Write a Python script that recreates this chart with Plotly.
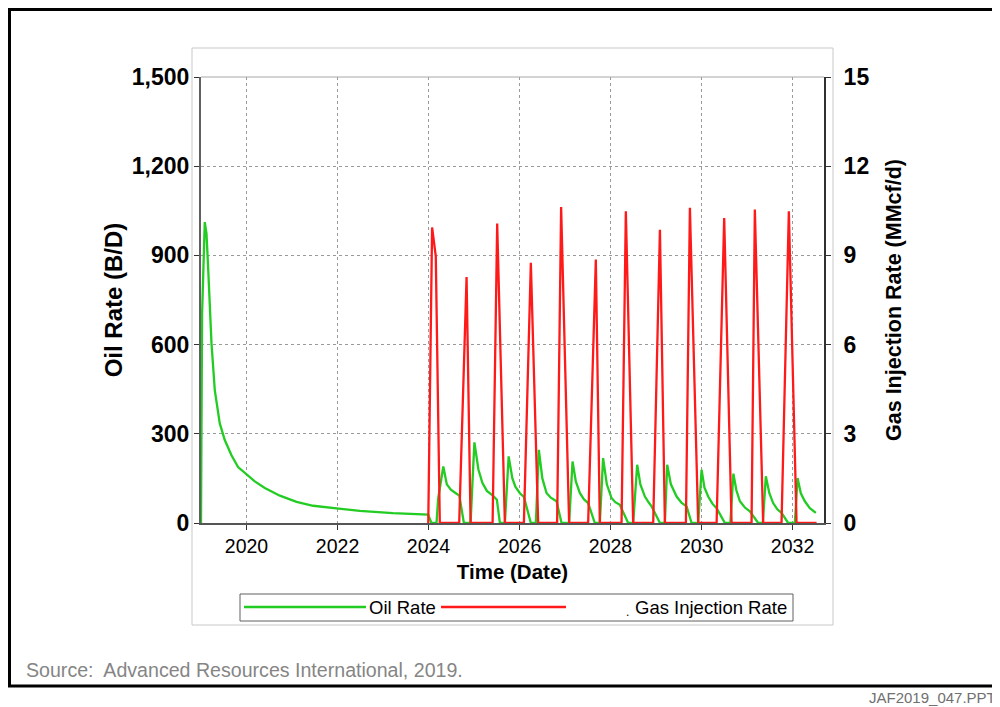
import datetime as dt
import plotly.graph_objects as go

# ---------------- data (decimal years) ----------------
oil_years = [
    2019.000, 2019.024, 2019.083, 2019.121, 2019.156, 2019.231, 2019.303, 2019.413,
    2019.523, 2019.670, 2019.815, 2020.000, 2020.182, 2020.402, 2020.622, 2020.732,
    2021.099, 2021.464, 2021.978, 2022.490, 2023.215, 2023.991, 2024.066,
    2024.176, 2024.211, 2024.325, 2024.402, 2024.490, 2024.600, 2024.677, 2024.776,
    2024.923, 2024.967, 2025.007, 2025.095, 2025.182, 2025.281, 2025.413, 2025.501, 2025.567,
    2025.677, 2025.721, 2025.760, 2025.842, 2025.908, 2026.007, 2026.095, 2026.248,
    2026.358, 2026.424, 2026.501, 2026.593, 2026.688, 2026.813, 2026.923,
    2027.090, 2027.165, 2027.237, 2027.325, 2027.413, 2027.508, 2027.655,
    2027.765, 2027.837, 2027.919, 2028.022, 2028.105, 2028.204, 2028.387,
    2028.497, 2028.585, 2028.655, 2028.754, 2028.842, 2028.901, 2029.084,
    2029.193, 2029.244, 2029.325, 2029.451, 2029.556, 2029.670, 2029.780,
    2029.925, 2030.000, 2030.062, 2030.145, 2030.237, 2030.330, 2030.512,
    2030.633, 2030.699, 2030.765, 2030.842, 2030.952, 2031.062, 2031.244,
    2031.347, 2031.413, 2031.490, 2031.574, 2031.666, 2031.758, 2031.903,
    2032.051, 2032.110, 2032.182, 2032.270, 2032.380, 2032.512,
]
oil_rate = [
    0, 704, 1012, 973, 862, 604, 447, 335,
    279, 228, 188, 163, 140, 118, 101, 92,
    71, 58, 49, 41, 33, 28, 0,
    0, 81, 190, 130, 112, 100, 92, 0,
    0, 145, 271, 180, 135, 108, 92, 78, 0,
    0, 120, 224, 150, 122, 100, 88, 0,
    0, 246, 150, 101, 85, 73, 0,
    0, 207, 140, 101, 80, 67, 0,
    0, 218, 130, 84, 70, 61, 0,
    0, 196, 130, 89, 68, 56, 0,
    0, 196, 130, 89, 68, 56, 0,
    0, 179, 120, 89, 65, 50, 0,
    0, 166, 110, 73, 52, 39, 0,
    0, 157, 100, 67, 46, 34, 0,
    0, 151, 100, 73, 50, 34,
]

gas_years = [
    2023.995, 2024.079, 2024.160, 2024.248,
    2024.673, 2024.835, 2024.923,
    2025.407, 2025.508, 2025.677,
    2026.095, 2026.248, 2026.409,
    2026.826, 2026.914, 2027.090,
    2027.508, 2027.677, 2027.765,
    2028.242, 2028.336, 2028.497,
    2028.936, 2029.084, 2029.193,
    2029.655, 2029.743, 2029.925,
    2030.330, 2030.497, 2030.659,
    2031.099, 2031.171, 2031.354,
    2031.758, 2031.919, 2032.088,
    2032.527,
]
gas_rate = [
    0, 9.94, 8.97, 0,
    0, 8.27, 0,
    0, 10.07, 0,
    0, 8.75, 0,
    0, 10.63, 0,
    0, 8.86, 0,
    0, 10.48, 0,
    0, 9.86, 0,
    0, 10.60, 0,
    0, 10.26, 0,
    0, 10.54, 0,
    0, 10.48, 0,
    0,
]

oil_ticks = [0, 300, 600, 900, 1200, 1500]
gas_ticks = [0, 3, 6, 9, 12, 15]
x_range_years = [2019.0, 2032.69]

series_names = ["Oil Rate", "Gas Injection Rate"]
x_title = "Time (Date)"
y_title = "Oil Rate (B/D)"
y2_title = "Gas Injection Rate (MMcf/d)"
source_text = "Source:  Advanced Resources International, 2019."
slide_id = "JAF2019_047.PPT"


def to_date(y):
    year = int(y)
    start = dt.datetime(year, 1, 1)
    end = dt.datetime(year + 1, 1, 1)
    return start + (end - start) * (y - year)


oil_dates = [to_date(v) for v in oil_years]
gas_dates = [to_date(v) for v in gas_years]
x_range = [to_date(v) for v in x_range_years]

GREEN = "#22cc22"
RED = "#ff1a1a"
FONT = "Liberation Sans, Arial, sans-serif"

# ---------------- figure ----------------
W, H = 1000, 707
OFF = 8  # page body margin
L, R, T, B = 193, 184, 69, 192
PW, PH = W - L - R, H - T - B


def px(x):
    # screen x -> paper
    return (x - OFF - L) / PW


def py(y):
    # screen y -> paper
    return (H - B - (y - OFF)) / PH


fig = go.Figure()
fig.add_trace(go.Scatter(x=oil_dates, y=oil_rate, name=series_names[0], mode="lines",
                         line=dict(color=GREEN, width=2.3), yaxis="y"))
fig.add_trace(go.Scatter(x=gas_dates, y=gas_rate, name=series_names[1], mode="lines",
                         line=dict(color=RED, width=2.3), yaxis="y2"))

fig.update_layout(
    width=W, height=H,
    margin=dict(l=L, r=R, t=T, b=B, pad=0),
    paper_bgcolor="white", plot_bgcolor="white",
    showlegend=False,
    font=dict(family=FONT, color="black"),
    xaxis=dict(
        type="date", range=x_range, tick0="2020-01-01", dtick="M24", tickformat="%Y",
        showgrid=True, gridcolor="#9a9a9a", griddash="dot", gridwidth=1,
        showline=True, linecolor="#555555", linewidth=2,
        ticks="outside", ticklen=5, tickcolor="#333333", tickwidth=1,
        tickfont=dict(size=19.5, family=FONT, color="black"),
        title=dict(text=x_title, font=dict(size=20.5, family=FONT, weight="bold"), standoff=8),
        zeroline=False, automargin=False,
    ),
    yaxis=dict(
        range=[0, 1500], tickvals=oil_ticks, tickformat=",d",
        showgrid=True, gridcolor="#9a9a9a", griddash="dot", gridwidth=1,
        showline=True, linecolor="#606060", linewidth=2,
        ticks="outside", ticklen=5, tickcolor="#333333",
        tickfont=dict(size=23, family=FONT, weight="bold"),
        title=dict(text=y_title, font=dict(size=24, family=FONT, weight="bold"), standoff=2),
        zeroline=False, automargin=False,
    ),
    yaxis2=dict(
        range=[0, 15], tickvals=gas_ticks, overlaying="y", side="right",
        showgrid=False, showline=True, linecolor="#303030", linewidth=2,
        ticks="outside", ticklen=5, tickcolor="#333333", ticklabelstandoff=8,
        tickfont=dict(size=23, family=FONT, weight="bold"),
        title=dict(text=y2_title, font=dict(size=21.5, family=FONT, weight="bold"), standoff=18),
        zeroline=False, automargin=False,
    ),
)

shapes = [
    # outer slide frame (left/top edges kept inside the drawable page)
    dict(type="rect", xref="paper", yref="paper", x0=px(9.5), x1=px(1030), y0=py(686), y1=py(9.5),
         line=dict(color="black", width=3), layer="below"),
    # light chart box
    dict(type="rect", xref="paper", yref="paper", x0=px(192), x1=px(833), y0=py(625), y1=py(48),
         line=dict(color="#c8c8c8", width=1), layer="below"),
    # top border of plot
    dict(type="line", xref="paper", yref="paper", x0=0, x1=1, y0=1, y1=1,
         line=dict(color="#a8a8a8", width=1)),
    # legend box
    dict(type="rect", xref="paper", yref="paper", x0=px(240), x1=px(793), y0=py(621), y1=py(594),
         line=dict(color="#606060", width=1), fillcolor="white"),
    dict(type="line", xref="paper", yref="paper", x0=px(244), x1=px(366), y0=py(607), y1=py(607),
         line=dict(color=GREEN, width=2.3)),
    dict(type="line", xref="paper", yref="paper", x0=px(441), x1=px(566), y0=py(607), y1=py(607),
         line=dict(color=RED, width=2.3)),
]
fig.update_layout(shapes=shapes)

annotations = [
    dict(text=series_names[0], x=px(367), y=py(607), xref="paper", yref="paper",
         xanchor="left", yanchor="middle", showarrow=False,
         font=dict(size=18.5, family=FONT, color="black")),
    dict(text=series_names[1], x=px(789), y=py(607), xref="paper", yref="paper",
         xanchor="right", yanchor="middle", showarrow=False,
         font=dict(size=18.5, family=FONT, color="black")),
    dict(text=".", x=px(627), y=py(612), xref="paper", yref="paper",
         xanchor="center", yanchor="middle", showarrow=False,
         font=dict(size=12, family=FONT, color="black")),
    dict(text=source_text, x=px(24), y=py(670), xref="paper", yref="paper",
         xanchor="left", yanchor="middle", showarrow=False,
         font=dict(size=19.6, family=FONT, color="#858585")),
    dict(text=slide_id, x=px(998), y=py(697), xref="paper", yref="paper",
         xanchor="right", yanchor="middle", showarrow=False,
         font=dict(size=15, family=FONT, color="#707070")),
]
fig.update_layout(annotations=annotations)

fig.write_html("out.html")
